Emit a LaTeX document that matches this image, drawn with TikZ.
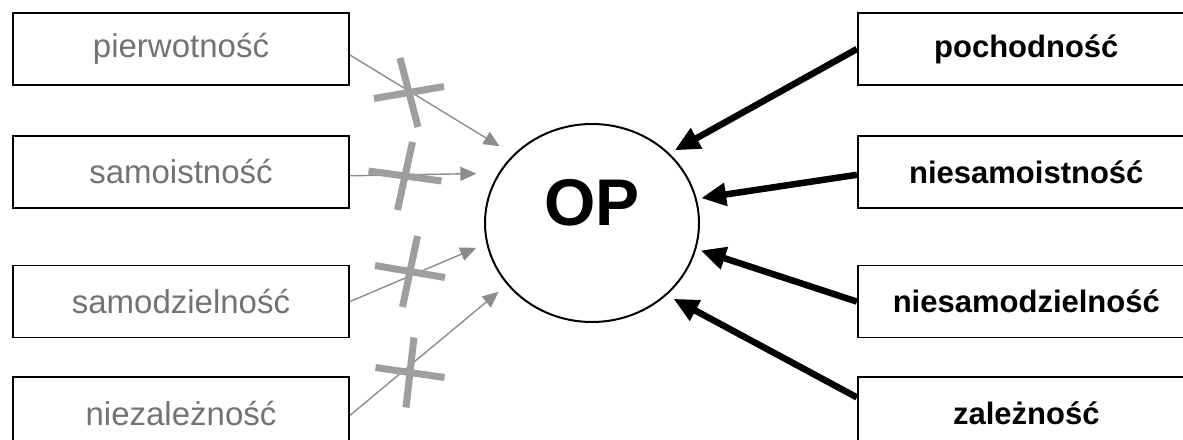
\documentclass[tikz,border=0pt]{standalone}
\usepackage{fontspec}
\setmainfont{Liberation Sans}
\usetikzlibrary{shapes.geometric, arrows.meta, positioning}

\begin{document}
\begin{tikzpicture}[x=1pt, y=1pt,
  lbox/.style={rectangle, draw=black, line width=1.8pt, fill=white,
               minimum width=336pt, minimum height=72pt,
               text=black!55, font=\fontsize{33}{38}\selectfont},
  rbox/.style={rectangle, draw=black, line width=1.8pt, fill=white,
               minimum width=337pt, minimum height=72pt,
               font=\fontsize{31}{36}\selectfont\bfseries},
  core/.style={ellipse, draw=black, line width=2pt,
               minimum width=214pt, minimum height=198pt, inner sep=0pt},
  strong/.style={-{Triangle[length=25pt,width=22pt]}, line width=6.5pt, black},
  weak/.style={-{Triangle[length=16pt,width=14pt]}, line width=1.4pt, black!45},
  cross/.style={line width=7pt, black!38},
  node distance=50pt
]
\useasboundingbox (0,0) rectangle (1183,439);
\clip (0,0) rectangle (1183,439);

\node[lbox] at (181,390) (l1) {pierwotność};
\node[lbox, below=49pt of l1] (l2) {samoistność};
\node[lbox, below=56pt of l2] (l3) {samodzielność};
\node[lbox, below=38pt of l3] (l4) {niezależność};

\node[rbox, right=507pt of l1] (r1) {pochodność};
\node[rbox, right=507pt of l2] (r2) {niesamoistność};
\node[rbox, right=507pt of l3] (r3) {niesamodzielność};
\node[rbox, right=507pt of l4] (r4) {zależność};

\node[core] at (592,216) (op) {};
\node[font=\fontsize{66}{70}\selectfont\bfseries] at ([yshift=20pt]op.center) (optext) {OP};

\draw[strong, shorten >=6pt]   (r1.west) -- (op.42.8);
\draw[strong, shorten >=4.4pt] ([yshift=-3pt]r2.west) -- (op.13.2);
\draw[strong, shorten >=4.6pt] (r3.west) -- (op.346.6);
\draw[strong, shorten >=7.6pt] ([yshift=16pt]r4.west) -- (op.316.1);

\draw[weak, shorten >=16pt] ([yshift=-6pt]l1.east) -- (op.139.2);
\draw[weak, shorten >=22pt] ([yshift=-4pt]l2.east) -- (op.152.2);
\draw[weak, shorten >=11pt] (l3.east) -- (op.191.4);
\draw[weak, shorten >=11pt] ([yshift=-2pt]l4.east) -- (op.216.8);

% crossed out
\foreach \cx/\cy/\vx/\vy/\hx/\hy in {409/346.5/9/-34.5/35/6,
    405/263/-7.5/-34/36.5/-5, 410/167.5/-7.5/-35.5/35/-6,
    410/66.5/-4/-35/34.5/-5}{
  \draw[cross] ({\cx-\vx},{\cy-\vy}) -- ({\cx+\vx},{\cy+\vy});
  \draw[cross] ({\cx-\hx},{\cy-\hy}) -- ({\cx+\hx},{\cy+\hy});
}
\end{tikzpicture}
\end{document}
